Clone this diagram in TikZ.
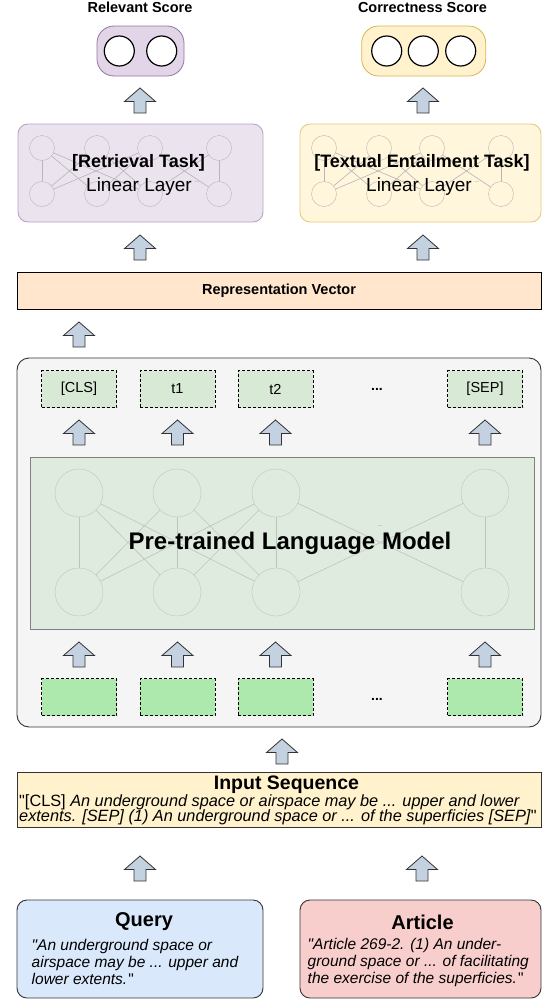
\documentclass[tikz,border=0pt]{standalone}
\usepackage{fontspec}
\setmainfont{Liberation Sans}[Ligatures=TeXOff]
\usetikzlibrary{shapes.geometric}

\definecolor{purplefill}{HTML}{E1D5E7}
\definecolor{purpleline}{HTML}{9673A6}
\definecolor{purplelite}{HTML}{EBE4EF}
\definecolor{purplelitel}{HTML}{B9A1C8}
\definecolor{yellowfill}{HTML}{FFF2CC}
\definecolor{yellowline}{HTML}{D6B656}
\definecolor{yellowlite}{HTML}{FFF6DC}
\definecolor{yellowlitel}{HTML}{E3CB7E}
\definecolor{repfill}{HTML}{FFE6CC}
\definecolor{greyfill}{HTML}{F5F5F5}
\definecolor{plmfill}{HTML}{E0EBDF}
\definecolor{tokfill}{HTML}{D8E9D6}
\definecolor{embfill}{HTML}{ADE8AD}
\definecolor{queryfill}{HTML}{DAE8FC}
\definecolor{articlefill}{HTML}{F8CECC}
\definecolor{arrfill}{HTML}{C3D1E0}
\definecolor{darkline}{HTML}{333333}
\definecolor{netgray}{HTML}{BFC3BF}
\definecolor{tasknet}{HTML}{B8B4B8}

\tikzstyle{scorelbl} = [font=\fontsize{14.5}{17}\selectfont\bfseries]
\tikzstyle{outpill} = [rectangle, rounded corners=17pt, minimum height=50pt, line width=0.8pt]
\tikzstyle{outcirc} = [circle, draw=black, fill=white, line width=1.2pt, minimum size=30pt, inner sep=0pt]
\tikzstyle{taskbox} = [rectangle, rounded corners=10pt, minimum width=245pt, minimum height=98pt, line width=0.9pt]
\tikzstyle{netcirc} = [circle, draw=tasknet, minimum size=25pt, inner sep=0pt]
\tikzstyle{bignetcirc} = [circle, draw=netgray, minimum size=48pt, inner sep=0pt]
\tikzstyle{netline} = [draw=netgray, line width=0.6pt]
\tikzstyle{tasknetline} = [draw=tasknet, line width=0.6pt]
\tikzstyle{tasktitle} = [font=\fontsize{18}{21}\selectfont\bfseries]
\tikzstyle{tasksub} = [font=\fontsize{19}{22}\selectfont]
\tikzstyle{tinydots} = [font=\fontsize{6}{6}\selectfont, text=gray]
\tikzstyle{widebox} = [rectangle, minimum width=524pt, draw=black, line width=0.9pt]
\tikzstyle{token} = [rectangle, minimum width=75pt, minimum height=37pt, draw=black, dash pattern=on 3pt off 2pt, line width=0.8pt, fill=tokfill, font=\fontsize{14.5}{17}\selectfont]
\tikzstyle{embed} = [token, fill=embfill]
\tikzstyle{dotslbl} = [font=\fontsize{14}{16}\selectfont\bfseries]
\tikzstyle{srcbox} = [rectangle, rounded corners=10pt, minimum height=98pt, draw=darkline, line width=0.9pt]
\tikzstyle{srctitle} = [font=\fontsize{20}{23}\selectfont\bfseries]
\tikzstyle{bodytxt} = [align=left, inner sep=0pt, font=\fontsize{15.5}{17}\selectfont]
\tikzset{blockup/.pic={
  \draw[draw=darkline, fill=arrfill, line width=0.8pt, line join=miter]
    (0,0) -- (15.5,13.5) -- (6,13.5) -- (6,25) -- (-6,25) -- (-6,13.5) -- (-15.5,13.5) -- cycle;
}}

\begin{document}
\begin{tikzpicture}[x=1pt, y=-1pt]
  \useasboundingbox (0,0) rectangle (543,1001);

  % outputs
  \node (RSCORE) [scorelbl] at (140,7.5) {Relevant Score};
  \node (CSCORE) [scorelbl] at (422.5,7.5) {Correctness Score};
  \node (RPILL) [outpill, minimum width=87pt, draw=purpleline, fill=purplefill] at (140.5,51) {};
  \node (CPILL) [outpill, minimum width=124pt, draw=yellowline, fill=yellowfill] at (423.7,51) {};
  \node (RO1) [outcirc] at (119.3,51) {};
  \node (RO2) [outcirc] at (161.7,51) {};
  \node (CO1) [outcirc] at (386.7,51) {};
  \node (CO2) [outcirc] at (423.3,51) {};
  \node (CO3) [outcirc] at (460.7,51) {};
  \pic at (140,88) {blockup};
  \pic at (423,88) {blockup};

  % task heads
  \node (RTASK) [taskbox, draw=purplelitel, fill=purplelite] at (140.5,173) {};
  \node (TTASK) [taskbox, minimum width=241pt, draw=yellowlitel, fill=yellowlite] at (420.5,173) {};
  \foreach \i/\x in {1/42,2/97,3/150,4/219} {
    \node (RU\i) [netcirc] at (\x,148) {};
    \node (RL\i) [netcirc] at (\x,194) {};
    \node (TU\i) [netcirc] at (\x+282,148) {};
    \node (TL\i) [netcirc] at (\x+282,194) {};
  }
  \foreach \a/\b in {1/1,1/2,1/3,2/1,2/3,3/1,3/2,3/4,4/3,4/4} {
    \draw[tasknetline] (RU\a) -- (RL\b);
    \draw[tasknetline] (TU\a) -- (TL\b);
  }
  \node (RTT) [tasktitle] at (138.5,163) {[Retrieval Task]};
  \node (RTS) [tasksub] at (139,187) {Linear Layer};
  \node [tinydots] at (197,182) {...};
  \node (TTT) [tasktitle] at (422,163) {[Textual Entailment Task]};
  \node (TTS) [tasksub] at (419,187) {Linear Layer};
  \node [tinydots] at (477,182) {...};
  \pic at (140,235) {blockup};
  \pic at (423,235) {blockup};

  % representation
  \node (REPV) [widebox, minimum height=37pt, fill=repfill, font=\fontsize{14.5}{17}\selectfont\bfseries] at (279,290.5) {Representation Vector};
  \pic at (79,322) {blockup};

  % encoder
  \node (ENC) [rectangle, rounded corners=12pt, minimum width=524pt, minimum height=369pt, draw=darkline, fill=greyfill, line width=0.9pt] at (279,542.5) {};
  \node (CLS) [token] at (79,389) {[CLS]};
  \node (T1) [token] at (177.5,389) {t1};
  \node (T2) [token] at (275.5,389) {t2};
  \node (TDOTS) [dotslbl] at (377,389) {...};
  \node (SEP) [token] at (485,389) {[SEP]};
  \foreach \x in {79,177.5,275.5,485} {
    \pic at (\x,420) {blockup};
    \pic at (\x,642) {blockup};
  }
  \node (PLM) [rectangle, minimum width=504pt, minimum height=172pt, draw=gray, fill=plmfill, line width=0.9pt] at (282,543) {};
  \foreach \i/\x in {1/79,2/177,3/276,4/485} {
    \node (PU\i) [bignetcirc] at (\x,493) {};
    \node (PL\i) [bignetcirc] at (\x,592) {};
  }
  \foreach \a/\b in {1/1,1/2,1/3,2/1,2/2,2/3,3/1,3/2,3/3,3/4,4/3,4/4} {
    \draw[netline] (PU\a) -- (PL\b);
  }
  \node [tinydots] at (380,526) {...};
  \node (PLMT) [font=\fontsize{24}{28}\selectfont\bfseries] at (290,543) {Pre-trained Language Model};
  \node (E1) [embed] at (79,697) {};
  \node (E2) [embed] at (177.5,697) {};
  \node (E3) [embed] at (275.5,697) {};
  \node (EDOTS) [dotslbl] at (377,699) {...};
  \node (E4) [embed] at (485,697) {};
  \pic at (282,739) {blockup};

  % input sequence
  \node (INSEQ) [widebox, minimum height=55pt, draw=darkline, fill=yellowfill] at (279,799.5) {};
  \node (INSEQT) [font=\fontsize{19.5}{22}\selectfont\bfseries] at (286.5,785) {Input Sequence};
  \node (INSEQB) [bodytxt, font=\fontsize{16.3}{15.5}\selectfont, anchor=west] at (19,810)
    {"[CLS] \textit{An underground space or airspace may be ... upper and lower}\\
     \textit{extents. [SEP] (1) An underground space or ... of the superficies [SEP]}"};
  \pic at (140,856) {blockup};
  \pic at (422,856) {blockup};

  % sources
  \node (QUERY) [srcbox, minimum width=246pt, fill=queryfill] at (140,949) {};
  \node (QTITLE) [srctitle] at (144,922) {Query};
  \node (QTXT) [bodytxt, anchor=west] at (31.5,962)
    {\textit{"An underground space or}\\\textit{airspace may be ... upper and}\\\textit{lower extents.}\kern1pt"};
  \node (ARTICLE) [srcbox, minimum width=241pt, fill=articlefill] at (420.5,949) {};
  \node (ATITLE) [srctitle] at (422.5,922) {Article};
  \node (ATXT) [bodytxt, anchor=west] at (307.5,962)
    {\textit{"Article 269-2. (1) An under-}\\\textit{ground space or ... of facilitating}\\\textit{the exercise of the superficies.}\kern1pt"};
\end{tikzpicture}
\end{document}
